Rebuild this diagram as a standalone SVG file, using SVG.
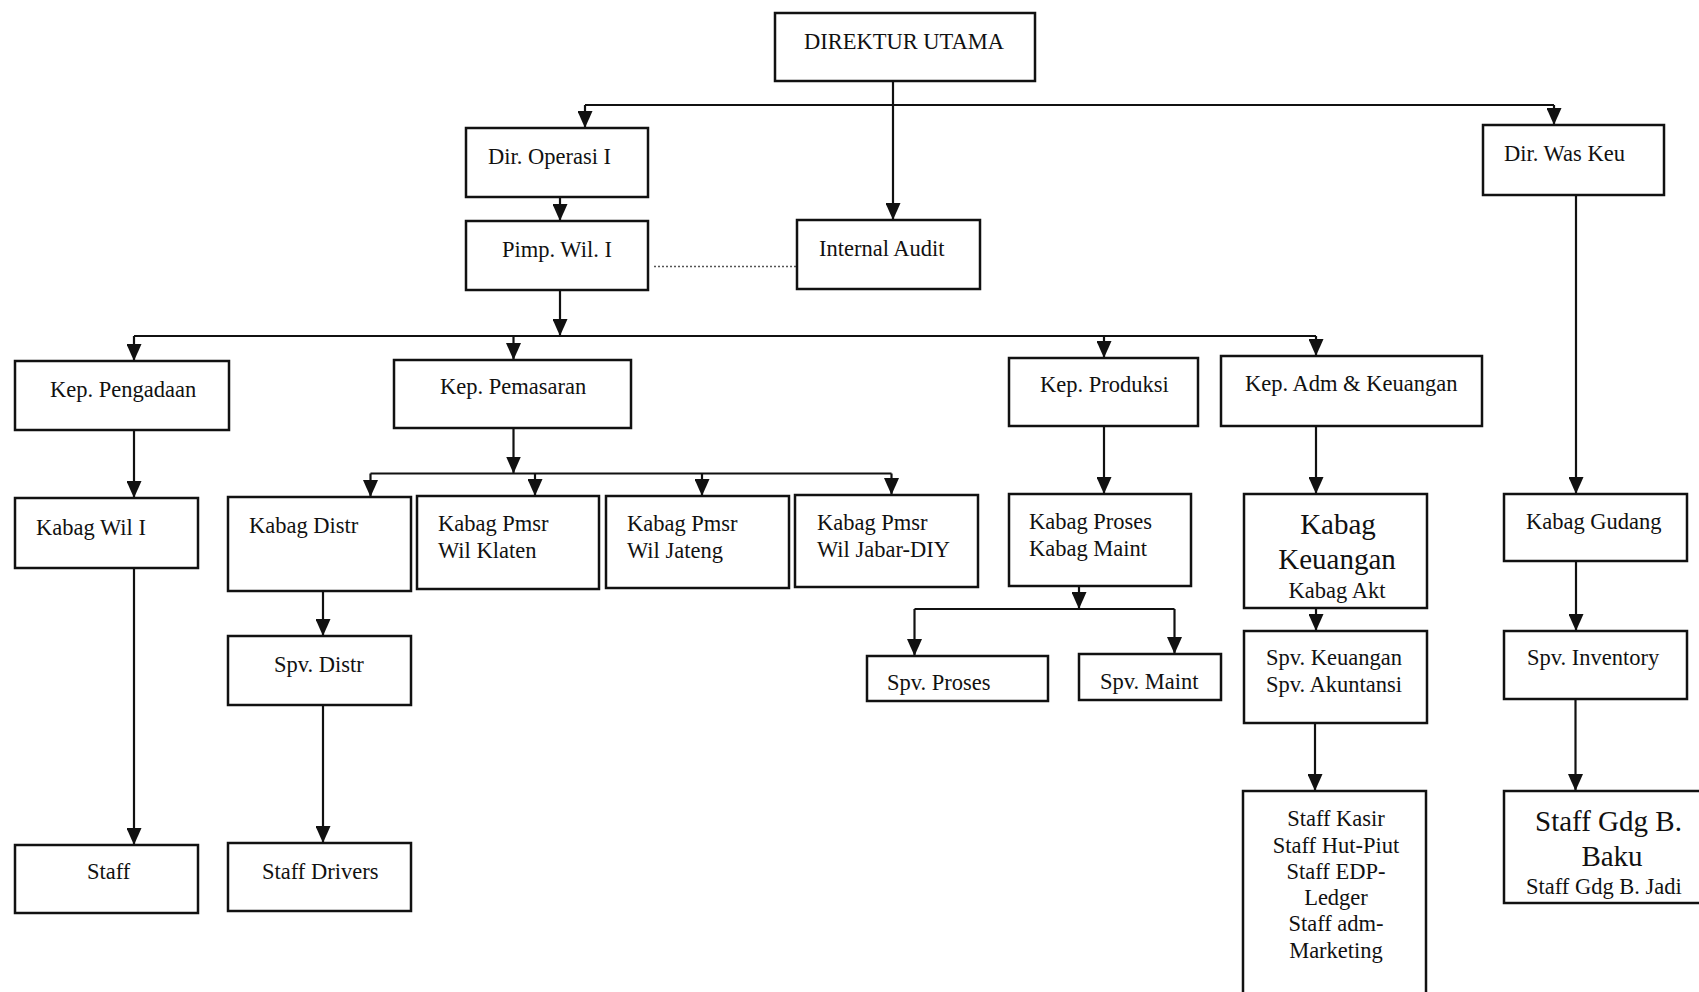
<svg xmlns="http://www.w3.org/2000/svg" width="1699" height="992" viewBox="0 0 1699 992">
<style>
.box{fill:#fff;stroke:#111;stroke-width:2.5}
.t{font-family:"Liberation Serif","Times New Roman",serif;font-size:22.5px;fill:#111}
.big{font-size:29px}
.c{text-anchor:middle}
.ln{fill:none;stroke:#111;stroke-width:2.2}
.arr{marker-end:url(#ah)}
.dot{fill:none;stroke:#555;stroke-width:1.5;stroke-dasharray:2 2}
</style>
<defs>
<marker id="ah" viewBox="0 0 17 15" refX="17" refY="7.5" markerWidth="17" markerHeight="15" markerUnits="userSpaceOnUse" orient="auto">
<path d="M0,0 L17,7.5 L0,15 z" fill="#111"/>
</marker>
</defs>
<rect width="1699" height="992" fill="#fff"/>
<g id="connectors">
<path class="ln arr" d="M893,81 V220"/>
<path class="ln" d="M585,105 H1554"/>
<path class="ln arr" d="M585,105 V128"/>
<path class="ln arr" d="M1554,105 V125"/>
<path class="ln arr" d="M560,197 V221"/>
<path class="dot" d="M654,266.5 H797"/>
<path class="ln arr" d="M560,290 V336"/>
<path class="ln" d="M134,336 H1316"/>
<path class="ln arr" d="M134,336 V361"/>
<path class="ln arr" d="M513.5,336 V360"/>
<path class="ln arr" d="M1104,336 V358"/>
<path class="ln arr" d="M1316,336 V356"/>
<path class="ln arr" d="M134,430 V498"/>
<path class="ln arr" d="M134,568 V845"/>
<path class="ln arr" d="M513.5,428 V473.5"/>
<path class="ln" d="M370.5,473.5 H891.5"/>
<path class="ln arr" d="M370.5,473.5 V497"/>
<path class="ln arr" d="M535,473.5 V496"/>
<path class="ln arr" d="M702,473.5 V496"/>
<path class="ln arr" d="M891.5,473.5 V495"/>
<path class="ln arr" d="M323,591 V636"/>
<path class="ln arr" d="M323,705 V843"/>
<path class="ln arr" d="M1104,426 V494"/>
<path class="ln arr" d="M1079,586 V609"/>
<path class="ln" d="M914.5,609 H1174.5"/>
<path class="ln arr" d="M914.5,609 V656"/>
<path class="ln arr" d="M1174.5,609 V654"/>
<path class="ln arr" d="M1316,426 V494"/>
<path class="ln arr" d="M1316,608 V631"/>
<path class="ln arr" d="M1315,723 V791"/>
<path class="ln arr" d="M1576,195 V494"/>
<path class="ln arr" d="M1576,561 V631"/>
<path class="ln arr" d="M1575.5,699 V791"/>
</g>
<g id="n-direktur"><rect class="box" x="775" y="13" width="260" height="68"/><text class="t" x="804" y="49">DIREKTUR UTAMA</text></g>
<g id="n-dirop"><rect class="box" x="466" y="128" width="182" height="69"/><text class="t" x="488" y="164">Dir. Operasi I</text></g>
<g id="n-pimp"><rect class="box" x="466" y="221" width="182" height="69"/><text class="t" x="502" y="257">Pimp. Wil. I</text></g>
<g id="n-audit"><rect class="box" x="797" y="220" width="183" height="69"/><text class="t" x="819" y="256">Internal Audit</text></g>
<g id="n-wasKeu"><rect class="box" x="1483" y="125" width="181" height="70"/><text class="t" x="1504" y="161">Dir. Was Keu</text></g>
<g id="n-pengadaan"><rect class="box" x="15" y="361" width="214" height="69"/><text class="t" x="50" y="397">Kep. Pengadaan</text></g>
<g id="n-pemasaran"><rect class="box" x="394" y="360" width="237" height="68"/><text class="t" x="440" y="394">Kep. Pemasaran</text></g>
<g id="n-produksi"><rect class="box" x="1009" y="358" width="189" height="68"/><text class="t" x="1040" y="392">Kep. Produksi</text></g>
<g id="n-adm"><rect class="box" x="1221" y="356" width="261" height="70"/><text class="t" x="1245" y="391">Kep. Adm &amp; Keuangan</text></g>
<g id="n-kabagwil"><rect class="box" x="15" y="498" width="183" height="70"/><text class="t" x="36" y="535">Kabag Wil I</text></g>
<g id="n-staff"><rect class="box" x="15" y="845" width="183" height="68"/><text class="t" x="87" y="879">Staff</text></g>
<g id="n-kabagdistr"><rect class="box" x="228" y="497" width="183" height="94"/><text class="t" x="249" y="533">Kabag Distr</text></g>
<g id="n-klaten"><rect class="box" x="417" y="496" width="182" height="93"/><text class="t" x="438" y="531">Kabag Pmsr</text><text class="t" x="438" y="558">Wil Klaten</text></g>
<g id="n-jateng"><rect class="box" x="606" y="496" width="183" height="92"/><text class="t" x="627" y="531">Kabag Pmsr</text><text class="t" x="627" y="558">Wil Jateng</text></g>
<g id="n-jabar"><rect class="box" x="795" y="495" width="183" height="92"/><text class="t" x="817" y="530">Kabag Pmsr</text><text class="t" x="817" y="557">Wil Jabar-DIY</text></g>
<g id="n-spvdistr"><rect class="box" x="228" y="636" width="183" height="69"/><text class="t" x="274" y="672">Spv. Distr</text></g>
<g id="n-drivers"><rect class="box" x="228" y="843" width="183" height="68"/><text class="t" x="262" y="879">Staff Drivers</text></g>
<g id="n-proses"><rect class="box" x="1009" y="494" width="182" height="92"/><text class="t" x="1029" y="529">Kabag Proses</text><text class="t" x="1029" y="556">Kabag Maint</text></g>
<g id="n-spvproses"><rect class="box" x="867" y="656" width="181" height="45"/><text class="t" x="887" y="690">Spv. Proses</text></g>
<g id="n-spvmaint"><rect class="box" x="1079" y="654" width="142" height="46"/><text class="t" x="1100" y="689">Spv. Maint</text></g>
<g id="n-kabagkeu"><rect class="box" x="1244" y="494" width="183" height="114"/><text class="t big c" x="1338" y="534">Kabag</text><text class="t big c" x="1337" y="569">Keuangan</text><text class="t c" x="1337" y="598">Kabag Akt</text></g>
<g id="n-spvkeu"><rect class="box" x="1244" y="631" width="183" height="92"/><text class="t" x="1266" y="665">Spv. Keuangan</text><text class="t" x="1266" y="692">Spv. Akuntansi</text></g>
<g id="n-staffkasir"><rect class="box" x="1243" y="791" width="183" height="220"/><text class="t c" x="1336" y="826">Staff Kasir</text><text class="t c" x="1336" y="853">Staff Hut-Piut</text><text class="t c" x="1336" y="879">Staff EDP-</text><text class="t c" x="1336" y="905">Ledger</text><text class="t c" x="1336" y="931">Staff adm-</text><text class="t c" x="1336" y="958">Marketing</text></g>
<g id="n-gudang"><rect class="box" x="1504" y="494" width="183" height="67"/><text class="t" x="1526" y="529">Kabag Gudang</text></g>
<g id="n-inventory"><rect class="box" x="1504" y="631" width="183" height="68"/><text class="t" x="1527" y="665">Spv. Inventory</text></g>
<g id="n-staffgdg"><rect class="box" x="1504" y="791" width="210" height="112"/><text class="t big" x="1535" y="831">Staff Gdg B.</text><text class="t big c" x="1612" y="866">Baku</text><text class="t" x="1526" y="894">Staff Gdg B. Jadi</text></g>
</svg>
